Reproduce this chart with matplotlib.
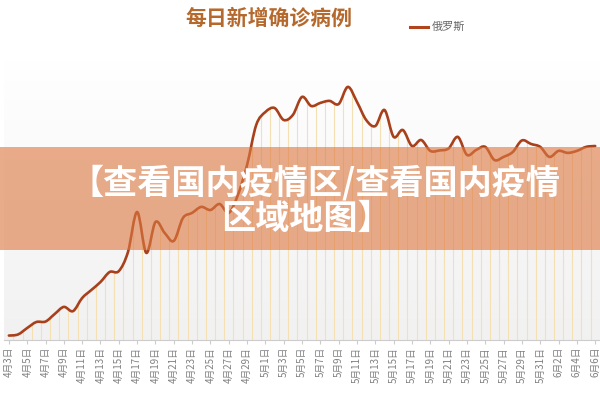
import numpy as np
import matplotlib.pyplot as plt
from matplotlib.path import Path
from matplotlib.patches import PathPatch, Rectangle
from matplotlib.colors import LinearSegmentedColormap
from matplotlib.lines import Line2D

plt.rcParams['font.family'] = ['Noto Sans CJK SC', 'DejaVu Sans']

# 4月3日 ~ 6月6日
months = [4] * 28 + [5] * 31 + [6] * 6
days = list(range(3, 31)) + list(range(1, 32)) + list(range(1, 7))
dates = [f'{m}月{d}日' for m, d in zip(months, days)]

# 俄罗斯 每日新增确诊
russia = [200, 250, 540, 810, 830, 1170, 1490, 1300, 1890, 2250,
          2610, 3060, 3100, 3960, 5760, 3920, 5310, 4820, 4460, 5490,
          5720, 5990, 5850, 6120, 5720, 6530, 7880, 9680, 10260, 10440,
          9900, 10130, 10940, 10530, 10670, 10760, 10620, 11390, 10710, 9900,
          9630, 10350, 9140, 9450, 8730, 9000, 8510, 8530, 8620, 9140,
          8330, 8550, 8690, 8100, 8240, 8460, 8980, 8820, 8690, 8240,
          8510, 8420, 8510, 8690, 8730]

title = '每日新增确诊病例'
series_name = '俄罗斯'
banner = ['【查看国内疫情区/查看国内疫情', '区域地图】']


def smooth_path(x, y, base=None):
    # catmull-rom style bezier through the points
    n = len(x)
    verts = [(x[0], y[0])]
    codes = [Path.MOVETO]
    for i in range(n - 1):
        a = max(i - 1, 0)
        b = min(i + 2, n - 1)
        c1 = (x[i] + (x[i + 1] - x[a]) / 6, y[i] + (y[i + 1] - y[a]) / 6)
        c2 = (x[i + 1] - (x[b] - x[i]) / 6, y[i + 1] - (y[b] - y[i]) / 6)
        verts += [c1, c2, (x[i + 1], y[i + 1])]
        codes += [Path.CURVE4] * 3
    if base is not None:
        verts += [(x[-1], base), (x[0], base), (x[0], y[0])]
        codes += [Path.LINETO, Path.LINETO, Path.CLOSEPOLY]
    return Path(verts, codes)


fig = plt.figure(figsize=(6, 4), dpi=100)
ax = fig.add_axes([4.3 / 600, 60 / 400, 595.5 / 600, 280 / 400])

xs = np.arange(len(russia))
ymax = 12600
ax.set_xlim(-0.5, len(russia) - 0.5)
ax.set_ylim(0, ymax)

# background gradient
cmap = LinearSegmentedColormap.from_list('bg', ['#ffffff', '#f1f1f1'])
ax.imshow(np.linspace(0, 1, 256).reshape(-1, 1), cmap=cmap, aspect='auto',
          extent=[-0.5, len(russia) - 0.5, 0, ymax], zorder=0)

# thin yellow lines under the curve
area = PathPatch(smooth_path(xs, russia, base=0), facecolor='none',
                 edgecolor='none', transform=ax.transData)
ax.add_patch(area)
vl = ax.vlines(xs[:-1] + 0.5, 0, ymax, colors='#f5e0b4', linewidth=0.8, zorder=1)
vl.set_clip_path(area)

line = PathPatch(smooth_path(xs, russia), facecolor='none', edgecolor='#a8401b',
                 linewidth=1.9, zorder=3, capstyle='round', joinstyle='round')
ax.add_patch(line)

ax.set_xticks(xs[::2])
ax.set_xticklabels(dates[::2], rotation=90, fontsize=7, color='#808080')
ax.tick_params(axis='x', length=3, color='#cccccc', pad=2)
ax.set_yticks([])
for s in ['top', 'right', 'left']:
    ax.spines[s].set_visible(False)
ax.spines['bottom'].set_color('#cccccc')

# title and legend
fig.text(269 / 600, 1 - 18 / 400, title, ha='center', va='center',
         fontsize=15, fontweight='bold', color='#b5692d')
fig.add_artist(Line2D([410 / 600, 428 / 600], [1 - 27 / 400, 1 - 27 / 400],
                      color='#b0441c', linewidth=2.2, transform=fig.transFigure))
fig.text(432 / 600, 1 - 27 / 400, series_name, ha='left', va='center',
         fontsize=8, color='#666666')

# overlay band with white text
fig.add_artist(Rectangle((0, 150 / 400), 1, 103 / 400, transform=fig.transFigure,
                         facecolor='#dd7a43', alpha=0.62, edgecolor='none', zorder=5))
fig.text(315 / 600, 1 - 183 / 400, banner[0], ha='center', va='center',
         fontsize=24.6, fontweight='heavy', color='white', zorder=6)
fig.text(306 / 600, 1 - 218 / 400, banner[1], ha='center', va='center',
         fontsize=24.6, fontweight='heavy', color='white', zorder=6)

fig.savefig('out.png', dpi=100)
